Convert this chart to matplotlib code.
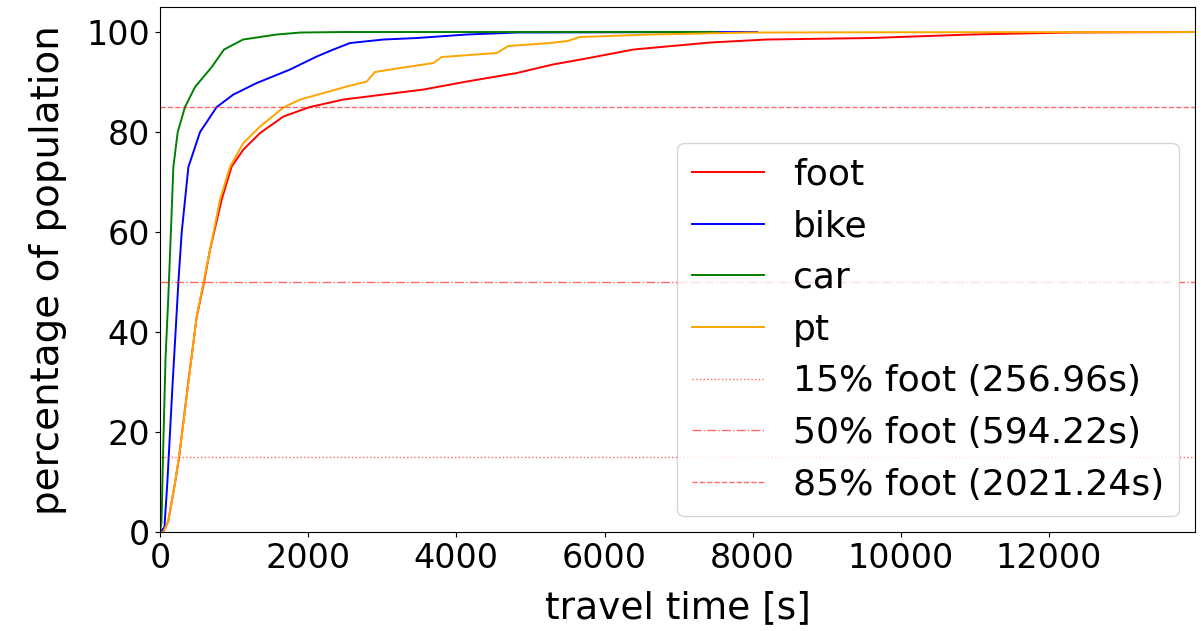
import matplotlib
matplotlib.use("Agg")
import matplotlib.pyplot as plt

# travel time [s] vs cumulative share of population [%]
foot_t = [0, 45, 112, 202, 257, 382, 495, 594, 675, 832, 967, 1125, 1350, 1665, 2021,
          2475, 3015, 3555, 4140, 4815, 5300, 5715, 6390, 7425, 8190, 9585, 10935, 12285, 13970]
foot_p = [0, 0, 2.3, 9.8, 15, 30, 43, 50, 56.5, 66.5, 73.1, 76.5, 79.8, 83.1, 85,
          86.5, 87.5, 88.5, 90.1, 91.8, 93.5, 94.6, 96.5, 97.9, 98.5, 98.8, 99.5, 99.9, 100]

bike_t = [0, 60, 99, 135, 171, 210, 248, 293, 383, 540, 765, 990, 1305, 1755, 2115,
          2340, 2565, 3015, 3465, 4140, 4815, 8060]
bike_p = [0, 1, 10, 20, 30, 40, 50, 60, 73, 80, 85, 87.5, 89.8, 92.5, 95.1,
          96.5, 97.8, 98.5, 98.8, 99.5, 99.9, 100]

car_t = [0, 20, 45, 75, 112, 144, 180, 239, 337, 472, 698, 864, 1121, 1575, 1900, 2500, 7520]
car_p = [0, 2, 18, 35, 47, 59, 73, 80, 85, 89, 93, 96.5, 98.5, 99.5, 99.9, 100, 100]

pt_t = [0, 45, 112, 202, 270, 382, 495, 585, 675, 810, 945, 1125, 1350, 1665, 1890, 2205,
        2520, 2790, 2900, 3240, 3690, 3800, 4545, 4700, 5265, 5500, 5670, 6615, 7965, 10000, 13970]
pt_p = [0, 0, 2.3, 9.8, 16.5, 29.8, 43.1, 49.8, 56.5, 66.5, 73.1, 77.8, 81.1, 84.9, 86.5, 87.8,
        89.1, 90.1, 92.0, 92.8, 93.8, 95.0, 95.8, 97.2, 97.8, 98.2, 99.0, 99.5, 99.9, 99.95, 100]

modes = ["foot", "bike", "car", "pt"]
colors = ["red", "blue", "green", "orange"]

quantiles = [15, 50, 85]
foot_quantile_times = [256.96, 594.22, 2021.24]
quantile_styles = [":", "-.", "--"]

plt.rcParams["font.size"] = 24

fig = plt.figure(figsize=(12.04, 6.31), dpi=100)
ax = fig.add_axes([0.1329, 0.1564, 0.8596, 0.8325])

for t, p, name, c in zip([foot_t, bike_t, car_t, pt_t], [foot_p, bike_p, car_p, pt_p], modes, colors):
    ax.plot(t, p, color=c, lw=1.4, label=name)

for q, qt, ls in zip(quantiles, foot_quantile_times, quantile_styles):
    ax.axhline(q, color="red", linestyle=ls, lw=1.0, alpha=0.6,
               label="%d%% foot (%.2fs)" % (q, qt))

ax.set_xlim(0, 13970)
ax.set_ylim(0, 105)
ax.set_xticks(range(0, 13000, 2000))
ax.set_yticks(range(0, 101, 20))
ax.set_xlabel("travel time [s]", fontsize=27, labelpad=11)
ax.set_ylabel("percentage of population", fontsize=28, labelpad=14)
ax.legend(loc="lower right", fontsize=26, labelspacing=0.49, borderaxespad=0.45)

fig.savefig("out.png", dpi=100)
